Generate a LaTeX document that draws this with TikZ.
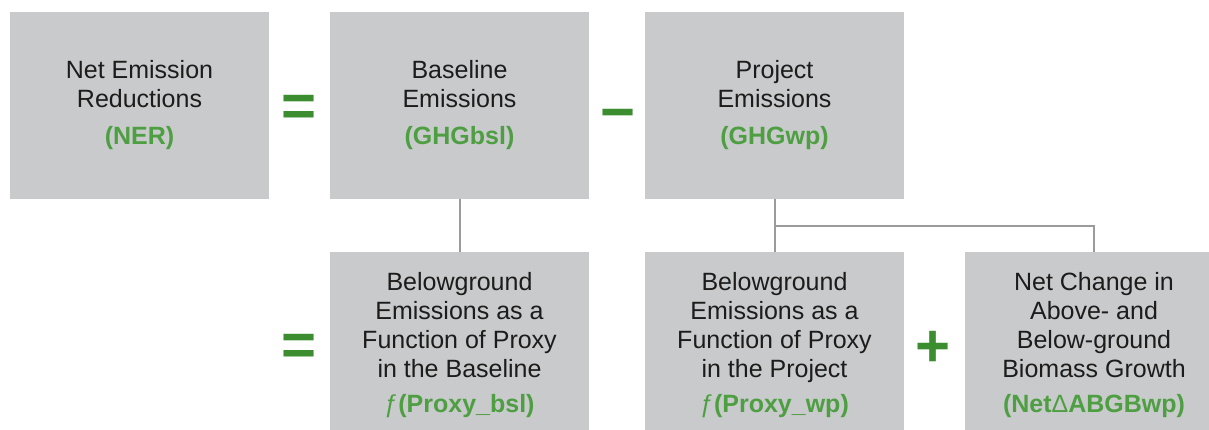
\documentclass[tikz,border=0pt]{standalone}
\usepackage{fontspec}
\setmainfont{Liberation Sans}
\usepackage{tikz}
\usetikzlibrary{positioning}

\definecolor{boxgray}{RGB}{200,202,204}
\definecolor{termgreen}{RGB}{78,158,66}
\definecolor{opgreen}{RGB}{60,140,48}
\definecolor{linkgray}{RGB}{155,155,155}
\definecolor{txtblack}{RGB}{28,28,28}
\newcommand{\abbr}[1]{{\color{termgreen}\bfseries #1}}

\begin{document}
\begin{tikzpicture}[x=1pt, y=1pt, node distance=320pt,
                    every node/.style={font=\fontsize{25}{29}\selectfont},
                    term/.style={fill=boxgray, text=txtblack, minimum width=259pt,
                                 minimum height=186pt, align=center, inner sep=0pt},
                    oper/.style={text=opgreen, inner sep=0pt,
                                 font=\fontsize{60}{60}\selectfont\bfseries},
                    link/.style={draw=linkgray, line width=2pt}]

\clip (0,0) rectangle (1209,429);

% top row
\node[term] (ner) at (139.5,323.5) {Net Emission\\Reductions\\[8pt]\abbr{(NER)}};
\node[term] (bsl) [right of=ner] {Baseline\\Emissions\\[8pt]\abbr{(GHGbsl)}};
\node[term] (prj) [xshift=-5pt, right of=bsl] {Project\\Emissions\\[8pt]\abbr{(GHGwp)}};

% bottom row
\node[term] (pbsl) [node distance=239.5pt, below of=bsl]
  {Belowground\\Emissions as a\\Function of Proxy\\in the Baseline\\[6pt]\abbr{{\mdseries ƒ}(Proxy\_bsl)}};
\node[term] (pwp) [node distance=239.5pt, below of=prj]
  {Belowground\\Emissions as a\\Function of Proxy\\in the Project\\[6pt]\abbr{{\mdseries ƒ}(Proxy\_wp)}};
\node[term] (gro) [xshift=-0.5pt, right of=pwp]
  {Net Change in\\Above- and\\Below-ground\\Biomass Growth\\[6pt]\abbr{(Net{\mdseries Δ}ABGBwp)}};

% operators
\node[oper] (eqtop) [node distance=160pt, yshift=-5pt, right of=ner] {=};
\node[oper] (minus) [node distance=159pt, yshift=-15pt, right of=bsl] {−};
\node[oper] (eqbot) [node distance=160pt, yshift=-5pt, left of=pbsl] {=};
\node[oper] (plus)  [node distance=159pt, yshift=-4pt, right of=pwp] {+};

% connectors
\draw[link] (bsl) -- (pbsl);
\draw[link] (prj) -- (pwp);
\draw[link] (pwp.north) ++(0,26) -| (gro.north);
\end{tikzpicture}
\end{document}
